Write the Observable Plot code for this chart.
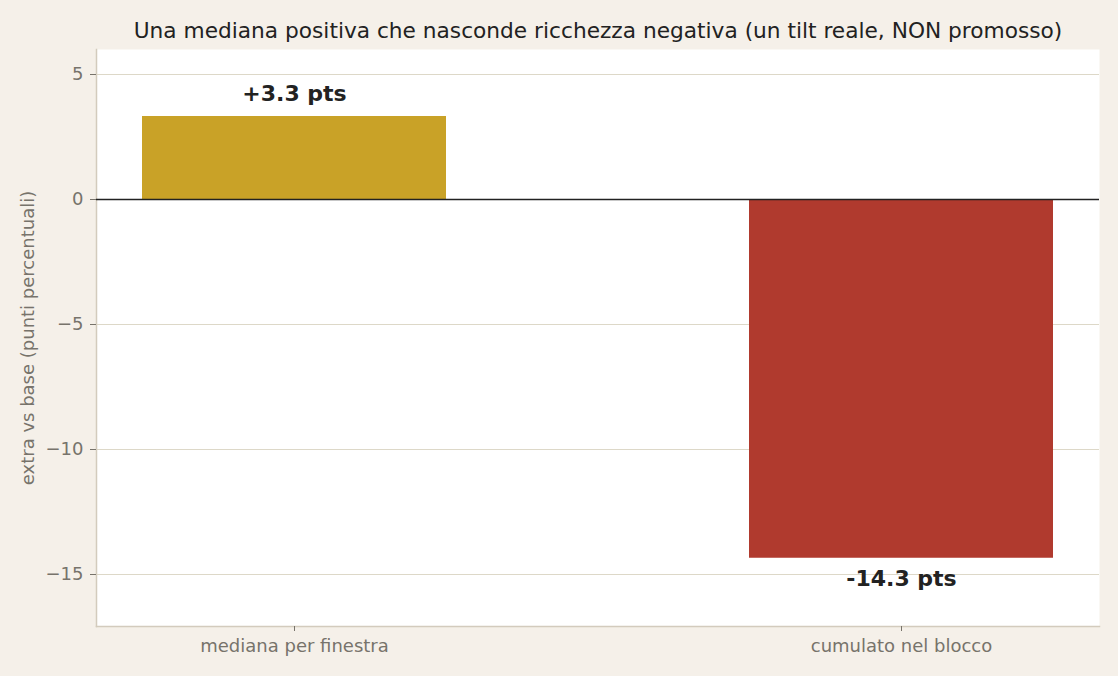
<!DOCTYPE html>
<html>
<head>
<meta charset="utf-8">
<script src="https://cdn.jsdelivr.net/npm/d3@7"></script>
<script src="https://cdn.jsdelivr.net/npm/@observablehq/plot@0.6"></script>
<style>
  html, body { margin: 0; padding: 0; background: #f5f0e9; }
  #chart svg { display: block; }
</style>
</head>
<body>
<div id="chart"></div>
<script>
const categories = ["mediana per finestra", "cumulato nel blocco"];
const values = [3.32, -14.35];
const labels = ["+3.3 pts", "-14.3 pts"];
const barColors = ["#c9a227", "#b03a2e"];
const yTicks = [5, 0, -5, -10, -15];
const title = "Una mediana positiva che nasconde ricchezza negativa (un tilt reale, NON promosso)";
const yLabel = "extra vs base (punti percentuali)";

const data = categories.map((c, i) => ({cat: c, value: values[i], label: labels[i], color: barColors[i]}));

const font = "DejaVu Sans, sans-serif";
const gray = "#77736b";

const chart = Plot.plot({
  width: 1118,
  height: 676,
  marginTop: 49,
  marginBottom: 50,
  marginLeft: 96,
  marginRight: 19,
  style: {background: "transparent", fontFamily: font, fontSize: "18px", color: gray},
  x: {domain: categories, paddingInner: 0.5, paddingOuter: 0.075, label: null},
  y: {domain: [-17.08, 6.0], label: null},
  marks: [
    Plot.frame({fill: "white", stroke: null}),
    Plot.gridY(yTicks, {stroke: "#ddd8c8", strokeOpacity: 1, strokeWidth: 1}),
    Plot.frame({anchor: "left", stroke: "#d3cbbd", strokeWidth: 1.5}),
    Plot.frame({anchor: "bottom", stroke: "#d3cbbd", strokeWidth: 1.5}),
    Plot.barY(data, {x: "cat", y: "value", fill: "color"}),
    Plot.ruleY([0], {stroke: "#222222", strokeWidth: 1.5}),
    Plot.text(data.filter(d => d.value >= 0), {x: "cat", y: "value", text: "label", dy: -23, fontSize: 22, fontWeight: "bold", fill: "#222222"}),
    Plot.text(data.filter(d => d.value < 0), {x: "cat", y: "value", text: "label", dy: 21, fontSize: 22, fontWeight: "bold", fill: "#222222"}),
    Plot.axisY({ticks: yTicks, tickFormat: d => d < 0 ? "\u2212" + Math.abs(d) : String(d), tickSize: 6, tickPadding: 7, stroke: gray, fill: gray, fontSize: 18, label: null}),
    Plot.axisX({tickSize: 5, tickPadding: 8, stroke: gray, fill: gray, fontSize: 18, label: null}),
    Plot.text([title], {frameAnchor: "top", dy: -18, fontSize: 21.7, fill: "#222222", lineAnchor: "middle"}),
    Plot.text([yLabel], {frameAnchor: "left", dx: -68, rotate: -90, textAnchor: "middle", fontSize: 18, fill: gray})
  ]
});
document.getElementById("chart").appendChild(chart);
</script>
</body>
</html>
